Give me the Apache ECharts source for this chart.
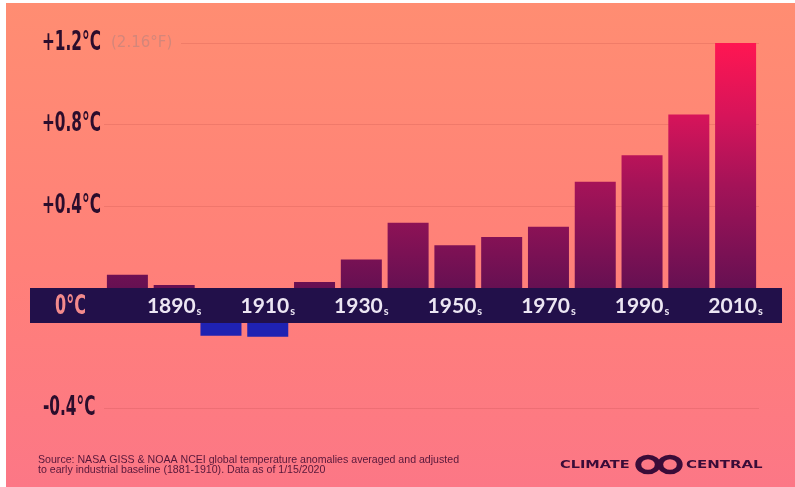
<!DOCTYPE html>
<html>
<head>
<meta charset="utf-8">
<script src="https://cdn.jsdelivr.net/npm/echarts@6/dist/echarts.min.js"></script>
<style>
  html, body { margin: 0; padding: 0; background: #ffffff; }
  #chart { width: 795px; height: 487px; }
</style>
</head>
<body>
<div id="chart"></div>
<script>
// Decade averages of global temperature anomaly (°C vs. 1881-1910 baseline)
const decades = ['1880s', '1890s', '1900s', '1910s', '1920s', '1930s', '1940s',
                 '1950s', '1960s', '1970s', '1980s', '1990s', '2000s', '2010s'];
const anomalies = [0.065, 0.015, -0.06, -0.065, 0.03, 0.14, 0.32,
                   0.21, 0.25, 0.30, 0.52, 0.65, 0.85, 1.2];
const warmTicks = [0, 0.4, 0.8, 1.2];
const coolTicks = [-0.4, 0];
const topTickFahrenheit = '(2.16°F)';
const sourceLines = [
  'Source: NASA GISS & NOAA NCEI global temperature anomalies averaged and adjusted',
  'to early industrial baseline (1881-1910). Data as of 1/15/2020'
];

const warmValues = anomalies.map(v => (v > 0 ? v : '-'));
const coolValues = anomalies.map(v => (v < 0 ? v : '-'));

const condensedFont = "bold 26px 'DejaVu Sans Condensed', 'DejaVu Sans', sans-serif";
const condensedScale = 0.655;
const gridColor = 'rgba(160, 50, 50, 0.16)';
const inkDark = '#2b0d2c';
const logoInk = '#3a0c38';

const chart = echarts.init(document.getElementById('chart'), null, { renderer: 'canvas' });

const baseGraphics = [
  {
    id: 'bg', type: 'rect', z: -100, silent: true,
    shape: { x: 6, y: 3, width: 789, height: 484 },
    style: {
      fill: {
        type: 'linear', x: 0, y: 0, x2: 0, y2: 1,
        colorStops: [
          { offset: 0, color: '#ff8d72' },
          { offset: 0.55, color: '#ff8079' },
          { offset: 1, color: '#fc7786' }
        ]
      }
    }
  },
  {
    id: 'band', type: 'rect', z: -50, silent: true,
    shape: { x: 30, y: 288, width: 752, height: 35 },
    style: { fill: '#22104a' }
  },
  {
    id: 'zero', type: 'text', z: 5, silent: true, x: 55, y: 307, scaleX: 0.66,
    style: { text: '0°C', font: "bold 27px 'DejaVu Sans Condensed', 'DejaVu Sans', sans-serif", fill: '#f28a8c', verticalAlign: 'middle' }
  },
  {
    id: 'source', type: 'text', z: 5, left: 38, top: 455, silent: true,
    style: { text: sourceLines.join('\n'), font: '10.6px "Liberation Sans", sans-serif', lineHeight: 10, fill: '#56173a' }
  },
  {
    id: 'logoL', type: 'text', z: 5, silent: true, x: 560, y: 465, scaleX: 1.32,
    style: { text: 'CLIMATE', font: "bold 11px 'DejaVu Sans', sans-serif", fill: logoInk, verticalAlign: 'middle' }
  },
  {
    id: 'logoR', type: 'text', z: 5, silent: true, x: 686, y: 465, scaleX: 1.36,
    style: { text: 'CENTRAL', font: "bold 11px 'DejaVu Sans', sans-serif", fill: logoInk, verticalAlign: 'middle' }
  },
  {
    id: 'ringL', type: 'circle', z: 5, silent: true, x: 648, y: 464.5, scaleX: 1.3,
    shape: { cx: 0, cy: 0, r: 7.5 },
    style: { fill: 'none', stroke: logoInk, lineWidth: 4.5 }
  },
  {
    id: 'ringR', type: 'circle', z: 5, silent: true, x: 670, y: 464.5, scaleX: 1.3,
    shape: { cx: 0, cy: 0, r: 7.5 },
    style: { fill: 'none', stroke: logoInk, lineWidth: 4.5 }
  }
];

const option = {
  animation: false,
  backgroundColor: 'transparent',
  grid: [
    { left: 104, right: 36, top: 43, height: 245 },
    { left: 104, right: 36, top: 323, height: 85 }
  ],
  xAxis: [
    {
      type: 'category', gridIndex: 0, data: decades,
      axisLine: { show: false }, axisTick: { show: false },
      axisLabel: {
        interval: (i) => i % 2 === 1,
        margin: 7,
        formatter: (v) => '{y|' + v.slice(0, 4) + '}{s|s}',
        rich: {
          y: { fontFamily: 'Lato', fontWeight: 'bold', fontSize: 21, color: '#ece6f3', lineHeight: 22 },
          s: { fontFamily: 'Lato', fontWeight: 'bold', fontSize: 11, color: '#ece6f3', lineHeight: 20, verticalAlign: 'bottom', padding: [0, 0, 0, 1] }
        }
      }
    },
    {
      type: 'category', gridIndex: 1, data: decades,
      axisLine: { show: false }, axisTick: { show: false }, axisLabel: { show: false }
    }
  ],
  yAxis: [
    {
      type: 'value', gridIndex: 0, min: warmTicks[0], max: warmTicks[warmTicks.length - 1], interval: 0.4,
      axisLine: { show: false }, axisTick: { show: false }, axisLabel: { show: false },
      splitLine: { lineStyle: { color: ['transparent', gridColor, gridColor, 'transparent'], width: 1 } }
    },
    {
      type: 'value', gridIndex: 1, min: coolTicks[0], max: coolTicks[1], interval: 0.4,
      axisLine: { show: false }, axisTick: { show: false }, axisLabel: { show: false },
      splitLine: { lineStyle: { color: [gridColor, 'transparent'], width: 1 } }
    }
  ],
  series: [
    {
      type: 'bar', xAxisIndex: 0, yAxisIndex: 0, data: warmValues, barWidth: 41,
      itemStyle: {
        color: {
          type: 'linear', x: 0, y: 43, x2: 0, y2: 288, global: true,
          colorStops: [
            { offset: 0, color: '#ff1652' },
            { offset: 0.3, color: '#d6145a' },
            { offset: 0.58, color: '#a41358' },
            { offset: 1, color: '#661052' }
          ]
        }
      }
    },
    {
      type: 'bar', xAxisIndex: 1, yAxisIndex: 1, data: coolValues, barWidth: 41,
      itemStyle: { color: '#1f22b2' }
    }
  ],
  graphic: baseGraphics
};

chart.setOption(option);

// Condensed tick labels, placed through the value axes' own scales.
const tickGraphics = [];
const tickLabel = (v) => (v > 0 ? '+' : '') + v.toFixed(1) + '°C';
warmTicks.filter(v => v > 0).forEach((v) => {
  const py = chart.convertToPixel({ yAxisIndex: 0 }, v);
  tickGraphics.push({
    id: 'tw' + v, type: 'text', z: 5, silent: true, x: 42, y: py, scaleX: condensedScale,
    style: { text: tickLabel(v), font: condensedFont, fill: inkDark, verticalAlign: 'middle' }
  });
});
coolTicks.filter(v => v < 0).forEach((v) => {
  const py = chart.convertToPixel({ yAxisIndex: 1 }, v);
  tickGraphics.push({
    id: 'tc' + v, type: 'text', z: 5, silent: true, x: 43, y: py, scaleX: condensedScale,
    style: { text: tickLabel(v), font: condensedFont, fill: inkDark, verticalAlign: 'middle' }
  });
});
// Top tick: Fahrenheit equivalent, with its gridline running on after it.
const topValue = warmTicks[warmTicks.length - 1];
const topY = Math.round(chart.convertToPixel({ yAxisIndex: 0 }, topValue)) + 0.5;
tickGraphics.push({
  id: 'fahr', type: 'text', z: 5, silent: true, x: 111, y: topY,
  style: { text: topTickFahrenheit, font: "15px 'DejaVu Sans', sans-serif", fill: '#d4867a', verticalAlign: 'middle' }
});
tickGraphics.push({
  id: 'topLine', type: 'line', z: -40, silent: true,
  shape: { x1: 181, y1: topY, x2: 759, y2: topY },
  style: { stroke: gridColor, lineWidth: 1 }
});

chart.setOption({ graphic: baseGraphics.concat(tickGraphics) });
</script>
</body>
</html>
